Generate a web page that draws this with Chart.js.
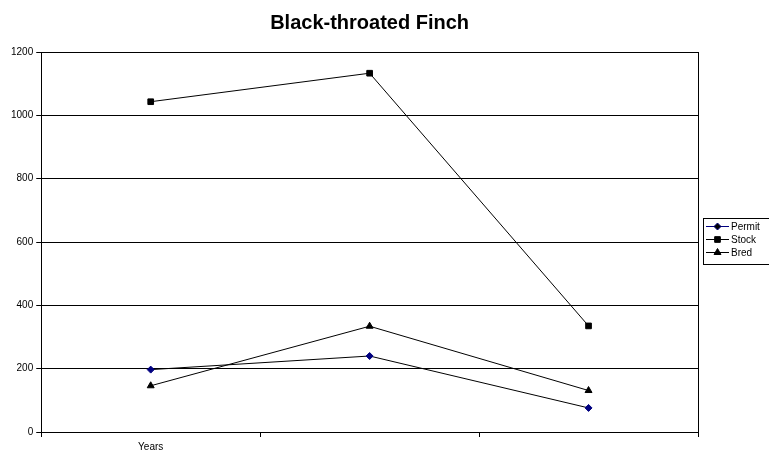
<!DOCTYPE html>
<html>
<head>
<meta charset="utf-8">
<script src="https://cdn.jsdelivr.net/npm/chart.js@4/dist/chart.umd.min.js"></script>
<style>
  html, body { margin: 0; padding: 0; background: #fff; }
  #wrap { width: 769px; height: 450px; }
</style>
</head>
<body>
<div id="wrap"><canvas id="finchChart"></canvas></div>
<script>
const chartTitle = 'Black-throated Finch';
const categories = ['Years', '', ''];
const permitValues = [197, 240, 76];
const stockValues = [1043, 1133, 335];
const bredValues = [146, 334, 131];
const yTicks = [0, 200, 400, 600, 800, 1000, 1200];

// draws title over the plot area, the right border and the excel-like legend
const excelBits = {
    id: 'excelBits',
    afterDraw(chart) {
        let c = chart.ctx
        let a = chart.chartArea
        c.save()
        c.fillStyle = '#000'
        c.font = 'bold 20px "Liberation Sans", Arial, sans-serif'
        c.textAlign = 'center'
        c.textBaseline = 'middle'
        c.fillText(chartTitle, (a.left + a.right) / 2, 23)

        c.strokeStyle = '#000'
        c.lineWidth = 1
        c.beginPath()
        c.moveTo(a.right + 0.5, a.top)
        c.lineTo(a.right + 0.5, a.bottom)
        c.stroke()

        // legend box
        let bx = 703.5, by = 218.5
        c.strokeRect(bx, by, 66, 46)
        c.font = '10px "Liberation Sans", Arial, sans-serif'
        c.textAlign = 'left'
        chart.data.datasets.forEach((ds, i) => {
            let y = 226 + i * 13
            c.strokeStyle = ds.legendColor
            c.beginPath()
            c.moveTo(706, y + 0.5)
            c.lineTo(729, y + 0.5)
            c.stroke()
            Chart.helpers.drawPoint(c, {
                pointStyle: ds.pointStyle,
                radius: ds.pointRadius,
                rotation: 0,
                borderWidth: 1
            }, 717.5, y + 0.5)
            c.fillStyle = '#000'
            c.fillText(ds.label, 731, y + 1)
        })
        c.restore()
    }
}

let ctx = document.getElementById('finchChart').getContext('2d');
let finchChart = new Chart(ctx, {
    type: 'line',
    data: {
        labels: categories,
        datasets: [{
            label: 'Permit',
            data: permitValues,
            borderColor: '#000',
            legendColor: '#000080',
            backgroundColor: '#000080',
            pointBackgroundColor: '#000080',
            pointBorderColor: '#000080',
            pointStyle: 'rectRot',
            pointRadius: 3.5,
            borderWidth: 1
        }, {
            label: 'Stock',
            data: stockValues,
            borderColor: '#000',
            legendColor: '#000',
            backgroundColor: '#000',
            pointBackgroundColor: '#000',
            pointBorderColor: '#000',
            pointStyle: 'rect',
            pointRadius: 4,
            borderWidth: 1
        }, {
            label: 'Bred',
            data: bredValues,
            borderColor: '#000',
            legendColor: '#000',
            backgroundColor: '#000',
            pointBackgroundColor: '#000',
            pointBorderColor: '#000',
            pointStyle: 'triangle',
            pointRadius: 4,
            borderWidth: 1
        }]
    },
    plugins: [excelBits],
    options: {
        responsive: true,
        maintainAspectRatio: false,
        animation: false,
        layout: {
            padding: { top: 52, right: 71, left: 8, bottom: -7 }
        },
        plugins: {
            legend: { display: false },
            title: { display: false },
            tooltip: { enabled: false }
        },
        scales: {
            x: {
                offset: true,
                border: { color: '#000', width: 1 },
                grid: {
                    offset: true,
                    drawOnChartArea: false,
                    drawTicks: true,
                    tickLength: 5,
                    color: '#000'
                },
                ticks: {
                    color: '#000',
                    padding: 4,
                    maxRotation: 0,
                    font: { family: '"Liberation Sans", Arial, sans-serif', size: 10 }
                }
            },
            y: {
                min: 0,
                max: 1200,
                afterBuildTicks: (axis) => { axis.ticks = yTicks.map(v => ({ value: v })) },
                border: { color: '#000', width: 1 },
                grid: {
                    color: '#000',
                    tickLength: 5
                },
                ticks: {
                    color: '#000',
                    padding: 3,
                    callback: (v) => String(v),
                    font: { family: '"Liberation Sans", Arial, sans-serif', size: 10 }
                }
            }
        }
    }
});
</script>
</body>
</html>
